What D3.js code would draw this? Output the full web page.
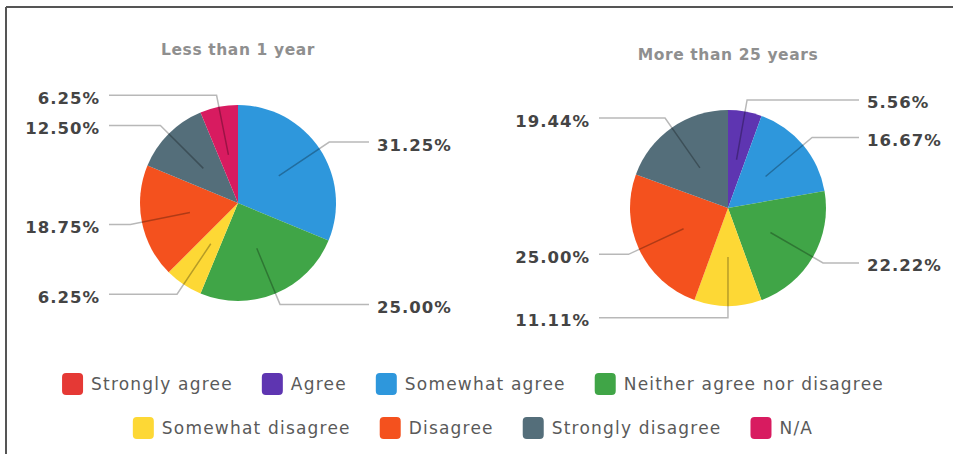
<!DOCTYPE html>
<html>
<head>
<meta charset="utf-8">
<script src="https://cdn.jsdelivr.net/npm/d3@7"></script>
<style>
  html, body { margin: 0; padding: 0; background: #fff; }
  svg { display: block; }
</style>
</head>
<body>
<svg id="chart" width="953" height="454"></svg>
<script>
// ---- data ----
const categories = ["Strongly agree", "Agree", "Somewhat agree", "Neither agree nor disagree",
                    "Somewhat disagree", "Disagree", "Strongly disagree", "N/A"];
const colors = ["#e53935", "#5e35b1", "#2e97dc", "#40a547", "#fdd835", "#f4511e", "#546e7a", "#d81b60"];
const titles = ["Less than 1 year", "More than 25 years"];
const lessThan1Year = [0, 0, 31.25, 25.00, 6.25, 18.75, 12.50, 6.25];
const moreThan25Years = [0, 5.56, 16.67, 22.22, 11.11, 25.00, 19.44, 0];
const legendRows = [[0, 1, 2, 3], [4, 5, 6, 7]];

// ---- layout ----
const W = 953, H = 454;
const FONT = "'DejaVu Sans', sans-serif";
const svg = d3.select("#chart");
const R = 98;
const panels = [
  { title: titles[0], values: lessThan1Year, cx: 238, cy: 203 },
  { title: titles[1], values: moreThan25Years, cx: 728, cy: 208 }
];

// border (top + left)
svg.append("line").attr("x1", 6).attr("x2", W).attr("y1", 7).attr("y2", 7)
  .attr("stroke", "#555").attr("stroke-width", 2);
svg.append("line").attr("x1", 6).attr("x2", 6).attr("y1", 7).attr("y2", H)
  .attr("stroke", "#555").attr("stroke-width", 2);

const color = d3.scaleOrdinal().domain(categories).range(colors);
const pie = d3.pie().sort(null).value(d => d.value);
const arc = d3.arc().innerRadius(0).outerRadius(R);

panels.forEach(p => {
  const data = categories.map((c, i) => ({ cat: c, value: p.values[i] }));
  const arcs = pie(data).filter(a => a.data.value > 0);
  const g = svg.append("g").attr("transform", `translate(${p.cx},${p.cy})`);

  g.append("text")
    .attr("x", 0).attr("y", -R - 55)
    .attr("text-anchor", "middle").attr("dominant-baseline", "central")
    .attr("font-family", FONT).attr("font-weight", 700)
    .attr("font-size", 15.5).attr("letter-spacing", 0.6).attr("fill", "#8f8f8f")
    .text(p.title);

  g.selectAll("path.slice").data(arcs).join("path")
    .attr("class", "slice")
    .attr("d", arc)
    .attr("fill", d => color(d.data.cat));

  const pt = (a, r) => [r * Math.sin(a), -r * Math.cos(a)];
  arcs.forEach(a => {
    const mid = (a.startAngle + a.endAngle) / 2;
    const right = mid < Math.PI - 0.01;
    const p0 = pt(mid, R * 0.5);
    const p1 = pt(mid, R * 1.12);
    const xe = right ? 131 : -129;
    g.append("polyline")
      .attr("points", [p0, p1, [xe, p1[1]]].map(q => q.join(",")).join(" "))
      .attr("fill", "none").attr("stroke", "rgba(0,0,0,0.28)").attr("stroke-width", 1.5);
    g.append("text")
      .attr("x", right ? xe + 8 : xe - 9)
      .attr("y", p1[1] + 3)
      .attr("text-anchor", right ? "start" : "end")
      .attr("dominant-baseline", "central")
      .attr("font-family", FONT).attr("font-weight", 700)
      .attr("font-size", 16.5).attr("letter-spacing", 1).attr("fill", "#444")
      .text(a.data.value.toFixed(2) + "%");
  });
});

// ---- legend ----
const legendY = [384, 428];
const sw = 21, gapText = 8, gapItem = 29;
legendRows.forEach((row, ri) => {
  const g = svg.append("g");
  let x = 0;
  row.forEach(i => {
    const item = g.append("g").attr("transform", `translate(${x},0)`);
    item.append("rect").attr("x", 0).attr("y", -11).attr("width", sw).attr("height", 22)
      .attr("rx", 4).attr("fill", colors[i]);
    const t = item.append("text").attr("x", sw + gapText).attr("y", 0)
      .attr("dominant-baseline", "central")
      .attr("font-family", FONT).attr("font-size", 17).attr("letter-spacing", 1.2)
      .attr("fill", "#5a5a5a")
      .text(categories[i]);
    x += sw + gapText + t.node().getComputedTextLength() + gapItem;
  });
  const total = x - gapItem;
  g.attr("transform", `translate(${(473 - total / 2)},${legendY[ri]})`);
});
</script>
</body>
</html>
